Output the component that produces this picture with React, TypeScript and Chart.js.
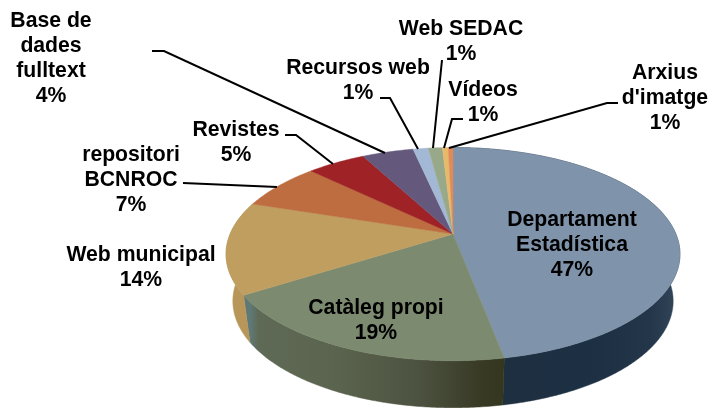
import React, { useEffect, useRef } from "react";
import { Chart, registerables } from "chart.js";

Chart.register(...registerables);

const categories = [
  ["Departament", "Estadística"],
  ["Catàleg propi"],
  ["Web municipal"],
  ["repositori", "BCNROC"],
  ["Revistes"],
  ["Base de", "dades", "fulltext"],
  ["Recursos web"],
  ["Web SEDAC"],
  ["Vídeos"],
  ["Arxius", "d'imatge"],
];
const seriesValues = [47, 19, 14, 7.2, 5, 4.4, 1.3, 1.2, 0.5, 0.4];
const percentLabels = ["47%", "19%", "14%", "7%", "5%", "4%", "1%", "1%", "1%", "1%"];
const topColors = ["#7f94ab", "#7c8a70", "#bf9e60", "#bd6d3f", "#9e2226", "#64597c", "#a3b8d4", "#98a98a", "#e8b96b", "#e08a5a"];

// Layout of the picture (not data)
const labelPlace = [
  { x: 572, y: 226 }, { x: 376, y: 314 }, { x: 141, y: 261 }, { x: 131, y: 161 }, { x: 236, y: 136 },
  { x: 51, y: 27 }, { x: 358, y: 74 }, { x: 461, y: 35 }, { x: 483, y: 96 }, { x: 665, y: 79 },
];
const leaders = [
  [[152, 51], [164, 51], [385, 153]],
  [[380, 98], [390, 98], [418, 149]],
  [[442, 60], [433, 148]],
  [[463, 119], [452, 119], [444, 148]],
  [[618, 103], [607, 103], [449, 148]],
  [[285, 135], [296, 135], [333, 164]],
  [[183, 183], [277, 187]],
];

const APEX_X = 453, APEX_Y = 234, A = 222.9, B = 102.8, K = 0.1887, DEPTH = 47, BOTTOM_SCALE = 0.97;

function rim(angle: number) {
  const t = angle + Math.PI / 2;
  const u = Math.sin(t), v = -Math.cos(t);
  const w = 1 - K * v;
  return { x: APEX_X + (A * u) / w, y: APEX_Y + (B * v) / w };
}
function lowerRim(angle: number) {
  const p = rim(angle);
  return { x: APEX_X + (p.x - APEX_X) * BOTTOM_SCALE, y: p.y + DEPTH };
}
function samples(a0: number, a1: number) {
  const n = Math.max(2, Math.ceil((a1 - a0) / 0.01));
  const out: number[] = [];
  for (let i = 0; i <= n; i++) out.push(a0 + ((a1 - a0) * i) / n);
  return out;
}

const pie3d = {
  id: "pie3d",
  beforeDatasetsDraw(chart: any) {
    const ctx = chart.ctx as CanvasRenderingContext2D;
    const arcs = chart.getDatasetMeta(0).data;

    const wallPaint = (i: number) => {
      const g = ctx.createLinearGradient(226, 0, 680, 0);
      const f = (x: number) => (x - 226) / 454;
      if (i === 0) {
        g.addColorStop(0, "#1e2f40");
        g.addColorStop(f(505), "#1e2f40");
        g.addColorStop(f(600), "#1d3044");
        g.addColorStop(f(650), "#243649");
        g.addColorStop(1, "#33475b");
      } else if (i === 1) {
        g.addColorStop(0, "#5a6a58");
        g.addColorStop(f(250), "#5e7a78");
        g.addColorStop(f(258), "#5f6a56");
        g.addColorStop(f(340), "#5a634e");
        g.addColorStop(f(420), "#4c5240");
        g.addColorStop(f(480), "#383a24");
        g.addColorStop(f(510), "#33351d");
        g.addColorStop(1, "#33351d");
      } else {
        return "#b8965a";
      }
      return g;
    };

    arcs.forEach((arc: any, i: number) => {
      if (i > 2) return;
      const s = samples(arc.startAngle, arc.endAngle);
      const paint = wallPaint(i);
      ctx.beginPath();
      s.forEach((a, j) => {
        const p = rim(a);
        j ? ctx.lineTo(p.x, p.y) : ctx.moveTo(p.x, p.y);
      });
      s.slice().reverse().forEach((a) => {
        const p = lowerRim(a);
        ctx.lineTo(p.x, p.y);
      });
      ctx.closePath();
      ctx.fillStyle = paint;
      ctx.strokeStyle = paint;
      ctx.lineWidth = 0.5;
      ctx.fill();
      ctx.stroke();
    });

    arcs.forEach((arc: any, i: number) => {
      ctx.beginPath();
      ctx.moveTo(APEX_X, APEX_Y);
      samples(arc.startAngle, arc.endAngle).forEach((a) => {
        const p = rim(a);
        ctx.lineTo(p.x, p.y);
      });
      ctx.closePath();
      ctx.fillStyle = topColors[i];
      ctx.strokeStyle = topColors[i];
      ctx.lineWidth = 0.5;
      ctx.fill();
      ctx.stroke();
    });
    return false;
  },
  afterDraw(chart: any) {
    const ctx = chart.ctx as CanvasRenderingContext2D;
    ctx.save();
    ctx.strokeStyle = "#000";
    ctx.lineWidth = 2;
    leaders.forEach((pts) => {
      ctx.beginPath();
      pts.forEach(([x, y], j) => (j ? ctx.lineTo(x, y) : ctx.moveTo(x, y)));
      ctx.stroke();
    });
    ctx.fillStyle = "#000";
    ctx.font = 'bold 21.2px "Liberation Sans", Arial, sans-serif';
    ctx.textAlign = "center";
    ctx.textBaseline = "alphabetic";
    categories.forEach((lines, i) => {
      const place = labelPlace[i];
      const rows = [...lines, percentLabels[i]];
      rows.forEach((row, r) => ctx.fillText(row, place.x, place.y + r * 25));
    });
    ctx.restore();
  },
};

export default function App() {
  const ref = useRef<HTMLCanvasElement>(null);
  useEffect(() => {
    const chart = new Chart(ref.current as HTMLCanvasElement, {
      type: "pie",
      data: {
        labels: categories.map((c) => c.join(" ")),
        datasets: [{ data: seriesValues, backgroundColor: topColors, borderWidth: 0 }],
      },
      options: {
        animation: false,
        responsive: false,
        plugins: { legend: { display: false }, tooltip: { enabled: false } },
      },
      plugins: [pie3d],
    } as any);
    return () => chart.destroy();
  }, []);
  return (
    <canvas
      ref={ref}
      width={711}
      height={408}
      style={{ position: "absolute", left: 0, top: 0, display: "block", background: "#fff" }}
    />
  );
}
